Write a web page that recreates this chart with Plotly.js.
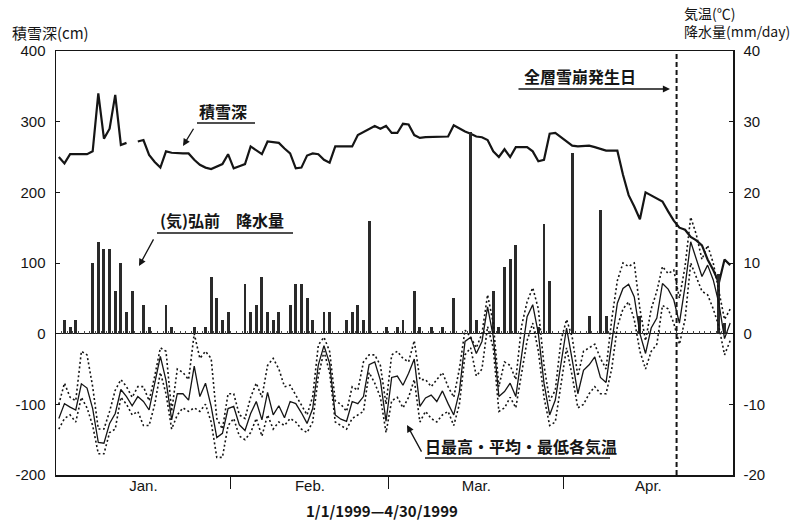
<!DOCTYPE html>
<html><head><meta charset="utf-8">
<script src="https://cdn.plot.ly/plotly-3.0.1.min.js"></script>
<style>html,body{margin:0;padding:0;background:#fff}#chart{width:798px;height:520px}</style>
</head><body><div id="chart"></div>
<script>
// Day index 1..120 (1 Jan 1999 - 30 Apr 1999)
const monthNames = ['Jan.', 'Feb.', 'Mar.', 'Apr.'];
const monthDays = [31, 28, 31, 30];
const avalancheDay = 110.5;

// Snow depth (cm), left axis
const snowDepth = [
  250, 241, 254, 254, 254, 254, 258, 340, 276, 290,
  338, 267, 270, null, 272, 274, 253, 243, 235, 258,
  256, 255, 255, 255, 246, 239, 235, 233, 236, 240,
  254, 234, 237, 240, 265, 260, 254, 272, 271, 270,
  262, 255, 234, 235, 252, 255, 254, 246, 242, 265,
  265, 265, 265, 281, 285, 289, 294, 290, 294, 284,
  284, 297, 296, 281, 277, 278, 278, 278, 278, 279,
  295, 290, 286, 283, 279, 278, 274, 258, 250, 261,
  250, 264, 264, 264, 258, 244, 246, 283, 284, 278,
  273, 266, 265, 265, 266, 264, 261, 259, 259, 259,
  225, 196, 180, 162, 200, 196, 191, 187, 173, 160,
  150, 147, 137, 132, 125, 105, 90, 72, 105, 97
];

// Precipitation at Hirosaki (mm/day), right axis
const precip = [
  0, 2, 1, 2, 0, 0, 10, 13, 12, 12,
  6, 10, 3, 6, 0, 4, 1, 0, 0, 4,
  1, 0, 0, 0, 1, 0, 1, 8, 5, 2,
  3, 0, 0, 7, 3, 4, 8, 3, 2, 3,
  0, 4, 7, 7, 5, 2, 0, 3, 3, 0,
  0, 2, 3, 4, 2, 16, 0, 0, 1, 0,
  1, 2, 0, 6, 1, 0, 1, 0, 1, 0,
  5, 0, 0, 28.5, 2, 0, 0, 6, 1, 9.5,
  10.5, 12.5, 0, 0, 0, 1, 15.5, 7.5, 0, 0,
  0, 25.5, 0, 0, 2.5, 0, 17.5, 2.5, 0, 0,
  0, 0, 0, 2.5, 0, 0, 0, 0, 0, 0,
  0, 0, 0, 0, 0, 0, 0, 8.5, 1.5, 0
];

// Daily max / mean / min air temperature (deg C), right axis
const tempMax = [
  -10, -7, -9, -9.5, -2.5, -3, -7.5, -13.5, -13.5, -11,
  -8, -6.5, -7.5, -9, -7.5, -7.5, -9.5, -6, -2, -2.5,
  -11, -5, -5.5, -6.5, 0, -3.5, -2.5, -3.5, -12, -13.5,
  -8.5, -8.5, -11.5, -12, -9, -7, -9, -4.5, -3.5, -5,
  -7.5, -7.3, -8.7, -10, -11.5, -8.9, -1.6, -0.5, -2.5, -9.5,
  -10, -11, -7.5, -8, -4, -3, -3, -4.5, -10, -3,
  -2.5, -3.5, -4, -1, -6.5, -6.5, -7.5, -6.5, -5.5, -7.5,
  -9, -5, 0.5, -0.5, -2, 0, 5.5, 1.5, -7.5, -4,
  -4.5, -6.5, 1, 4.5, 6.5, 3.5, -4.5, -9.5, -8, -1,
  2, -0.5, -6, -2.5, -2, -1.5, -3.5, -5, 2, 7.5,
  10, 9.5, 10, 3.5, -1, 3.5, 6, 9.5, 8.5, 9,
  5, 9.5, 16.5, 14, 10.5, 12.5, 10, 6, 2, 3.5
];
const tempMean = [
  -12.0, -9.9, -10.4, -10.8, -7.1, -7.7, -10.6, -15.4, -15.5, -12.7,
  -11.3, -7.9, -8.9, -10.2, -8.9, -9.6, -10.8, -7.2, -3.2, -6.6,
  -12.2, -8.5, -8.5, -9.4, -4.6, -8.9, -7.0, -10.3, -14.7, -14.1,
  -10.6, -10.3, -12.9, -13.7, -11.3, -9.6, -12.2, -8.3, -11.5, -10.2,
  -11.9, -9.6, -9.9, -11.2, -12.7, -10.6, -4.4, -1.7, -4.2, -11.5,
  -12.1, -12.4, -9.6, -9.9, -8.9, -4.4, -4.0, -6.6, -12.4, -6.2,
  -6.0, -7.3, -5.6, -3.6, -10.3, -9.1, -8.7, -9.6, -8.1, -9.9,
  -11.5, -8.2, -1.1, -0.5, -2.8, -1.1, 3.8, -0.4, -8.9, -8.2,
  -7.0, -8.9, -3.5, 2.4, 4.1, 0.0, -7.0, -11.5, -9.4, -4.2,
  0.8, -3.7, -8.5, -5.2, -4.4, -3.3, -6.2, -6.9, -1.5, 4.3,
  6.4, 7.0, 5.2, 0.0, -2.8, 0.8, 2.2, 7.1, 6.3, 4.8,
  1.5, 6.7, 13.0, 10.7, 8.1, 9.7, 7.6, 4.3, -0.7, 1.5
];
const tempMin = [
  -13.5, -12, -11.5, -12.5, -9, -10.5, -13, -17, -17, -14,
  -13.5, -9, -10, -11.5, -11, -13, -13, -10, -5.5, -8.5,
  -13.5, -11.5, -10.5, -11, -10.5, -11, -10, -12.5, -17.5, -17.5,
  -13, -12, -14.5, -15, -14, -12, -14.5, -11.5, -13.5, -12.5,
  -13, -12, -12.5, -13.5, -14, -12.5, -6, -2.5, -5.5, -12.5,
  -13, -13.5, -12, -11.5, -11, -5.5, -7, -9, -14, -9.5,
  -9, -10.5, -9, -6.5, -12.5, -11, -12, -12.5, -11.5, -11,
  -13, -10, -3, -2, -6, -5, 1, -2, -11, -10.5,
  -9, -10.5, -6, -1, 1.5, -2.5, -9, -13, -12.5, -7.5,
  -2, -6, -10.5, -10, -8.5, -7.5, -8.5, -8.5, -5, 1,
  3.5, 4.5, 2, -2.5, -5, -2.5, -1.5, 4, 3.5, 1.5,
  -1.5, 2, 10, 8, 6, 5.5, 3.5, 1, -3, -1
];

const leftTicks = [-200, -100, 0, 100, 200, 300, 400];
const rightTicks = [-20, -10, 0, 10, 20, 30, 40];

const days = snowDepth.map((_, i) => i + 1);
const monthBounds = [], monthCenters = [];
let acc = 0;
monthDays.forEach((n, i) => {
  monthCenters.push(acc + (n + 1) / 2);
  acc += n;
  if (i < monthDays.length - 1) monthBounds.push(acc + 0.5);
});

const INK = '#151515';
const CJK = '"Noto Sans CJK JP", "Noto Sans", sans-serif';
const LAT = '"Liberation Sans", Arial, sans-serif';
const xr = [0.5, days.length + 0.5];

const traces = [
  {type: 'bar', x: days, y: precip, xaxis: 'x', yaxis: 'y2', width: 0.52,
   marker: {color: '#2a2a2a', line: {width: 0}}, hoverinfo: 'skip'},
  {type: 'scatter', mode: 'lines', x: days, y: tempMax, xaxis: 'x', yaxis: 'y2',
   line: {color: INK, width: 1.6, dash: '2px,2.5px'}, hoverinfo: 'skip'},
  {type: 'scatter', mode: 'lines', x: days, y: tempMin, xaxis: 'x', yaxis: 'y2',
   line: {color: INK, width: 1.6, dash: '2px,2.5px'}, hoverinfo: 'skip'},
  {type: 'scatter', mode: 'lines', x: days, y: tempMean, xaxis: 'x', yaxis: 'y2',
   line: {color: INK, width: 1.3}, hoverinfo: 'skip'},
  {type: 'scatter', mode: 'lines', x: days, y: snowDepth, xaxis: 'x', yaxis: 'y',
   connectgaps: false, line: {color: INK, width: 2.2}, hoverinfo: 'skip'},
  // helper (invisible) traces so the overlay axes are drawn
  {type: 'scatter', mode: 'markers', x: [days[0]], y: [snowDepth[0]], xaxis: 'x2', yaxis: 'y',
   marker: {opacity: 0}, hoverinfo: 'skip'},
  {type: 'scatter', mode: 'markers', x: [days[0]], y: [snowDepth[0]], xaxis: 'x3', yaxis: 'y',
   marker: {opacity: 0}, hoverinfo: 'skip'}
];

const L = 56, R = 733, T = 51, B = 475;
const px = x => (x - L) / (R - L);
const py = y => (B - y) / (B - T);

function label(text, x, y, opts) {
  return Object.assign({text, xref: 'paper', yref: 'paper', x: px(x), y: py(y),
    xanchor: 'center', yanchor: 'middle', showarrow: false,
    font: {family: CJK, size: 16, color: INK, weight: 'bold'}}, opts || {});
}
function arrow(hx, hy, tx, ty) {
  return {text: ' ', xref: 'paper', yref: 'paper', x: px(hx), y: py(hy),
    ax: tx - hx, ay: ty - hy, showarrow: true, arrowhead: 2, arrowsize: 1.1,
    arrowwidth: 1.3, arrowcolor: INK, standoff: 0, startstandoff: 0};
}
function seg(x0, y0, x1, y1, extra) {
  return Object.assign({type: 'line', xref: 'paper', yref: 'paper',
    x0: px(x0), y0: py(y0), x1: px(x1), y1: py(y1),
    line: {color: INK, width: 1.3}}, extra || {});
}

const layout = {
  width: 798, height: 520,
  margin: {l: L, r: 798 - R, t: T, b: 520 - B, pad: 0},
  paper_bgcolor: '#fff', plot_bgcolor: '#fff',
  showlegend: false,
  bargap: 0,
  font: {family: LAT, size: 15, color: INK},
  xaxis: {range: xr, tickvals: monthCenters, ticktext: monthNames, ticks: '',
    showline: true, mirror: true, linecolor: INK, linewidth: 1.5,
    showgrid: false, zeroline: false, tickfont: {family: LAT, size: 15, color: INK},
    ticklabelstandoff: -4},
  xaxis2: {overlaying: 'x', anchor: 'y', range: xr, tickvals: monthBounds,
    ticks: 'outside', ticklen: 13, tickwidth: 1.2, tickcolor: INK,
    showticklabels: false, showline: false, showgrid: false, zeroline: false},
  xaxis3: {overlaying: 'x', anchor: 'free', position: 1 / 3, range: xr,
    tick0: 0.5, dtick: 1, ticks: 'inside', ticklen: 3, tickwidth: 1, tickcolor: '#444',
    showticklabels: false, showline: false, showgrid: false, zeroline: false},
  yaxis: {range: [-200, 400], tickvals: leftTicks, ticktext: leftTicks.map(String),
    ticks: 'inside', ticklen: 4, tickcolor: INK, showline: true, linecolor: INK, linewidth: 1.5,
    showgrid: false, zeroline: true, zerolinecolor: INK, zerolinewidth: 1.6,
    tickfont: {family: LAT, size: 15, color: INK}, ticklabelstandoff: 6},
  yaxis2: {overlaying: 'y', side: 'right', range: [-20, 40], tickvals: rightTicks,
    ticktext: rightTicks.map(String),
    ticks: 'inside', ticklen: 4, tickcolor: INK, showline: true, linecolor: INK, linewidth: 1.5,
    showgrid: false, zeroline: false, tickfont: {family: LAT, size: 15, color: INK},
    ticklabelstandoff: 6},
  shapes: [
    {type: 'line', xref: 'x', yref: 'paper', x0: avalancheDay, x1: avalancheDay, y0: 0, y1: 1,
     line: {color: INK, width: 2, dash: '5px,3px'}},
    seg(197, 123, 255, 123),
    seg(157, 233, 293, 233),
    seg(425, 458, 610, 458)
  ],
  annotations: [
    label('積雪深(cm)', 10, 32, {xanchor: 'left', font: {family: CJK, size: 15, color: INK}}),
    label('気温(℃)<br>降水量(mm/day)', 682, 22,
      {xanchor: 'left', align: 'left', font: {family: CJK, size: 14, color: INK}}),
    label('1/1/1999—4/30/1999', 382, 510, {font: {family: CJK, size: 15, color: INK, weight: 'bold'}}),
    label('全層雪崩発生日', 580, 76),
    arrow(670, 89, 515, 89),
    label('積雪深', 223, 111),
    arrow(183, 146, 197, 123),
    label('(気)弘前　降水量', 222, 220),
    arrow(139, 266, 157, 233),
    label('日最高・平均・最低各気温', 521, 446),
    arrow(407, 425, 425, 458)
  ]
};

Plotly.newPlot('chart', traces, layout, {staticPlot: true, displayModeBar: false});
</script>
</body></html>
